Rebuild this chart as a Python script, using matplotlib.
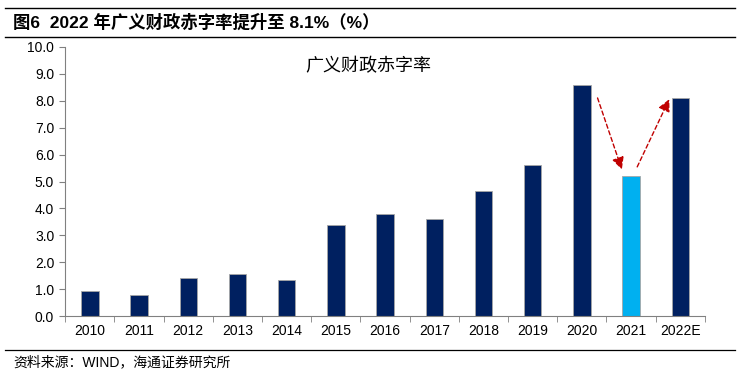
import matplotlib.pyplot as plt
import numpy as np

plt.rcParams["font.family"] = ["Liberation Sans", "Noto Sans CJK SC", "DejaVu Sans"]

# Data
years = ["2010", "2011", "2012", "2013", "2014", "2015", "2016",
         "2017", "2018", "2019", "2020", "2021", "2022E"]
deficit_ratio = [0.95, 0.8, 1.4, 1.55, 1.35, 3.4, 3.8, 3.6, 4.65, 5.6, 8.6, 5.2, 8.1]
highlight_year = "2021"

NAVY = "#002060"
LIGHT_BLUE = "#00B0F0"
ARROW_RED = "#C00000"
AXIS_GRAY = "#808080"

fig = plt.figure(figsize=(7.42, 3.75), dpi=100)
ax = fig.add_axes([0.088, 0.157, 0.862, 0.718])

x = np.arange(len(years))
colors = [LIGHT_BLUE if y == highlight_year else NAVY for y in years]
ax.bar(x, deficit_ratio, width=0.35, color=colors, edgecolor="#A6A6A6", linewidth=0.6, zorder=2)

ax.set_xlim(-0.5, len(years) - 0.5)
ax.set_ylim(0, 10)
ax.set_yticks(np.arange(0, 10.01, 1.0))
ax.set_yticklabels([f"{v:.1f}" for v in np.arange(0, 10.01, 1.0)], fontsize=10)
ax.set_xticks(x)
ax.set_xticklabels(years, fontsize=10)
ax.set_xticks(np.arange(-0.5, len(years), 1.0), minor=True)
ax.tick_params(axis="x", which="major", length=0, pad=6)
ax.tick_params(axis="x", which="minor", length=4, color=AXIS_GRAY, direction="out")
ax.tick_params(axis="y", length=4, color=AXIS_GRAY, direction="out", pad=4)

for side in ["top", "right"]:
    ax.spines[side].set_visible(False)
for side in ["left", "bottom"]:
    ax.spines[side].set_color(AXIS_GRAY)
    ax.spines[side].set_linewidth(0.8)

# Series label inside plot
ax.text(5.65, 9.3, "广义财政赤字率", fontsize=13, ha="center", va="center",
        family=["Noto Sans CJK SC", "DejaVu Sans"])

# Dashed arrows (down to 2021, back up to 2022E)
arrow_style = dict(arrowstyle="-|>", color=ARROW_RED, linestyle=(0, (3, 2)),
                   linewidth=1.0, mutation_scale=18)
ax.annotate("", xy=(10.83, 5.35), xytext=(10.3, 8.2), arrowprops=arrow_style)
ax.annotate("", xy=(11.8, 8.15), xytext=(11.1, 5.45), arrowprops=arrow_style)

# Header and footer rules / text
fig.add_artist(plt.Line2D([0.007, 0.99], [0.978, 0.978], color="black", linewidth=1.0))
fig.add_artist(plt.Line2D([0.007, 0.99], [0.902, 0.902], color="black", linewidth=1.0))
fig.add_artist(plt.Line2D([0.007, 0.99], [0.068, 0.068], color="black", linewidth=0.9))

fig.text(0.018, 0.942, "图6  2022 年广义财政赤字率提升至 8.1%（%）", fontsize=12.5,
         fontweight="bold", va="center", ha="left",
         family=["Liberation Sans", "Noto Sans CJK SC", "DejaVu Sans"])
fig.text(0.018, 0.033, "资料来源：WIND，海通证券研究所", fontsize=10, va="center", ha="left",
         family=["Liberation Sans", "Noto Sans CJK SC", "DejaVu Sans"])

fig.savefig("out.png", dpi=100)
